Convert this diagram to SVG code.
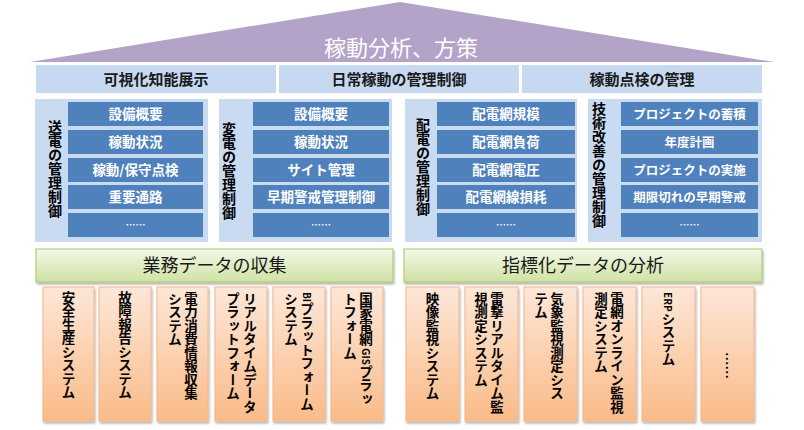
<svg xmlns="http://www.w3.org/2000/svg" width="804" height="430" viewBox="0 0 804 430">
<defs>
<linearGradient id="gOr" x1="0" y1="0" x2="0" y2="1">
<stop offset="0" stop-color="#fde7d8"/>
<stop offset="1" stop-color="#fabb88"/>
</linearGradient>
<linearGradient id="gGr" x1="0" y1="0" x2="0" y2="1">
<stop offset="0" stop-color="#f3f8e8"/>
<stop offset="1" stop-color="#cfe2a3"/>
</linearGradient>
<filter id="sh" x="-20%" y="-20%" width="140%" height="140%">
<feDropShadow dx="1" dy="2" stdDeviation="1.3" flood-color="#000" flood-opacity="0.3"/>
</filter>
</defs>
<style>
text{font-family:"Noto Sans CJK JP","Noto Sans CJK SC",sans-serif;}
.hdr{fill:#c6d9f1;}
.hdrT{font-size:15px;font-weight:bold;fill:#1a1a1a;text-anchor:middle;}
.pnl{fill:#c9dbf1;}
.ib{fill:#4f81bd;}
.ibT{font-size:13.5px;font-weight:bold;fill:#fff;text-anchor:middle;}
.ibS{font-size:12.5px;font-weight:bold;fill:#fff;text-anchor:middle;}
.dots{font-size:10px;font-weight:bold;fill:#fff;text-anchor:middle;}
.vl{font-size:14px;font-weight:bold;fill:#000;writing-mode:vertical-rl;}
.gr{fill:url(#gGr);stroke:#a9c56b;stroke-width:1;filter:url(#sh);}
.grT{font-size:18px;fill:#1a1a1a;text-anchor:middle;}
.or{fill:url(#gOr);stroke:#f5b689;stroke-width:1;filter:url(#sh);}
.ov{font-size:13.5px;font-weight:bold;fill:#000;writing-mode:vertical-rl;}
.lat{font-size:10px;}
</style>

<g id="roof">
<polygon points="30,62 400,2 774,62" fill="#b3a3c9"/>
<text x="401" y="56" font-size="22" fill="#fff" text-anchor="middle">稼動分析、方策</text>
</g>

<g id="header">
<g id="h1"><rect class="hdr" x="36" y="65" width="240" height="28"/><text class="hdrT" x="156" y="84.5">可視化知能展示</text></g>
<g id="h2"><rect class="hdr" x="279" y="65" width="240" height="28"/><text class="hdrT" x="399" y="84.5">日常稼動の管理制御</text></g>
<g id="h3"><rect class="hdr" x="522" y="65" width="240" height="28"/><text class="hdrT" x="642" y="84.5">稼動点検の管理</text></g>
</g>

<g id="panel1">
<rect class="pnl" x="35" y="99" width="173" height="143"/>
<text class="vl" x="55" y="120">送電の管理制御</text>
<rect class="ib" x="68" y="102" width="135" height="24"/><text class="ibT" x="135.5" y="119">設備概要</text>
<rect class="ib" x="68" y="130" width="135" height="24"/><text class="ibT" x="135.5" y="147">稼動状況</text>
<rect class="ib" x="68" y="158" width="135" height="24"/><text class="ibT" x="135.5" y="175">稼動/保守点検</text>
<rect class="ib" x="68" y="185" width="135" height="24"/><text class="ibT" x="135.5" y="202">重要通路</text>
<rect class="ib" x="68" y="213" width="135" height="24"/><text class="dots" x="135.5" y="229">……</text>
</g>

<g id="panel2">
<rect class="pnl" x="219" y="99" width="173" height="143"/>
<text class="vl" x="229" y="122">変電の管理制御</text>
<rect class="ib" x="253" y="102" width="136" height="24"/><text class="ibT" x="321" y="119">設備概要</text>
<rect class="ib" x="253" y="130" width="136" height="24"/><text class="ibT" x="321" y="147">稼動状況</text>
<rect class="ib" x="253" y="158" width="136" height="24"/><text class="ibT" x="321" y="175">サイト管理</text>
<rect class="ib" x="253" y="185" width="136" height="24"/><text class="ibT" x="321" y="202">早期警戒管理制御</text>
<rect class="ib" x="253" y="213" width="136" height="24"/><text class="dots" x="321" y="229">……</text>
</g>

<g id="panel3">
<rect class="pnl" x="405" y="99" width="172" height="143"/>
<text class="vl" x="423" y="118">配電の管理制御</text>
<rect class="ib" x="437" y="102" width="138" height="24"/><text class="ibT" x="506" y="119">配電網規模</text>
<rect class="ib" x="437" y="130" width="138" height="24"/><text class="ibT" x="506" y="147">配電網負荷</text>
<rect class="ib" x="437" y="158" width="138" height="24"/><text class="ibT" x="506" y="175">配電網電圧</text>
<rect class="ib" x="437" y="185" width="138" height="24"/><text class="ibT" x="506" y="202">配電網線損耗</text>
<rect class="ib" x="437" y="213" width="138" height="24"/><text class="dots" x="506" y="229">……</text>
</g>

<g id="panel4">
<rect class="pnl" x="588" y="99" width="174" height="143"/>
<text class="vl" x="599" y="102">技術改善の管理制御</text>
<rect class="ib" x="621" y="102" width="137" height="24"/><text class="ibS" x="689.5" y="118.5">プロジェクトの蓄積</text>
<rect class="ib" x="621" y="130" width="137" height="24"/><text class="ibS" x="689.5" y="146.5">年度計画</text>
<rect class="ib" x="621" y="158" width="137" height="24"/><text class="ibS" x="689.5" y="174.5">プロジェクトの実施</text>
<rect class="ib" x="621" y="185" width="137" height="24"/><text class="ibS" x="689.5" y="201.5">期限切れの早期警戒</text>
<rect class="ib" x="621" y="213" width="137" height="24"/><text class="dots" x="689.5" y="229">……</text>
</g>

<g id="collect">
<rect class="gr" x="36" y="249" width="357" height="33"/>
<text class="grT" x="214.5" y="271.5">業務データの収集</text>
</g>
<g id="analyze">
<rect class="gr" x="404" y="249" width="358" height="33"/>
<text class="grT" x="583" y="271.5">指標化データの分析</text>
</g>

<g id="src-left">
<g id="s1"><rect class="or" x="43" y="287" width="51" height="134"/><text class="ov" x="68.5" y="291">安全生産システム</text></g>
<g id="s2"><rect class="or" x="99" y="287" width="52" height="134"/><text class="ov" x="125" y="291">故障報告システム</text></g>
<g id="s3"><rect class="or" x="157" y="287" width="51" height="134"/><text class="ov" x="191" y="292">電力消費情報収集</text><text class="ov" x="175" y="292">システム</text></g>
<g id="s4"><rect class="or" x="215" y="287" width="52" height="134"/><text class="ov" x="250" y="292">リアルタイムデータ</text><text class="ov" x="233" y="292">プラットフォーム</text></g>
<g id="s5"><rect class="or" x="273" y="287" width="52" height="134"/><text class="ov" x="307" y="292"><tspan class="lat">BI</tspan>プラットフォーム</text><text class="ov" x="291" y="292">システム</text></g>
<g id="s6"><rect class="or" x="331" y="287" width="52" height="134"/><text class="ov" x="366" y="292">国家電網<tspan class="lat"> GIS</tspan>プラッ</text><text class="ov" x="350" y="292">トフォーム</text></g>
</g>

<g id="src-right">
<g id="s7"><rect class="or" x="406" y="287" width="53" height="134"/><text class="ov" x="432.5" y="292">映像監視システム</text></g>
<g id="s8"><rect class="or" x="465" y="287" width="53" height="134"/><text class="ov" x="497" y="292">雷撃リアルタイム監</text><text class="ov" x="481" y="292">視測定システム</text></g>
<g id="s9"><rect class="or" x="524" y="287" width="53" height="134"/><text class="ov" x="557" y="292">気象監視測定シス</text><text class="ov" x="541" y="292">テム</text></g>
<g id="s10"><rect class="or" x="583" y="287" width="53" height="134"/><text class="ov" x="617" y="292">電網オンライン監視</text><text class="ov" x="601" y="292">測定システム</text></g>
<g id="s11"><rect class="or" x="642" y="287" width="53" height="134"/><text class="ov" x="668.5" y="292"><tspan class="lat">ERP</tspan>システム</text></g>
<g id="s12"><rect class="or" x="701" y="287" width="53" height="134"/><text class="ov" x="727.5" y="352" font-size="8">……</text></g>
</g>

<g id="connectors"></g>
</svg>
